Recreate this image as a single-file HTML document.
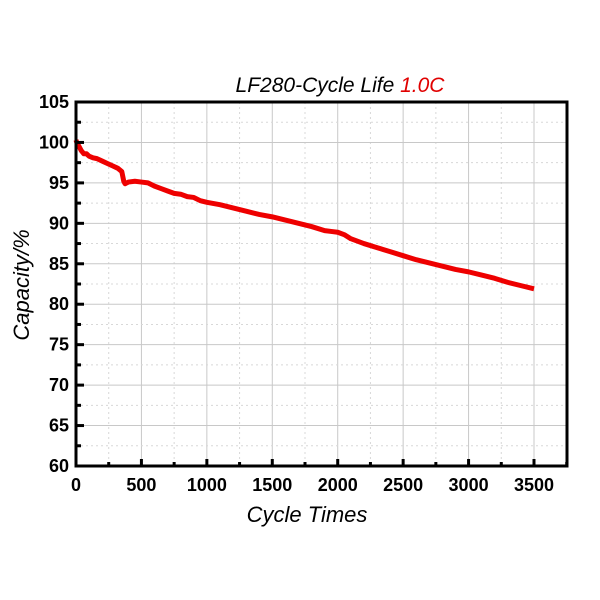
<!DOCTYPE html>
<html><head><meta charset="utf-8"><style>
body{margin:0;background:#fff;}
svg{display:block;font-family:"Liberation Sans",Arial,sans-serif;}
</style></head><body>
<svg id="chart" width="600" height="600">
<rect x="0" y="0" width="600" height="600" fill="#fff"/>
<g id="grid"></g>
<g id="series"></g>
<rect x="76" y="102" width="491" height="364" fill="none" stroke="#000" stroke-width="3"/>
<g id="ticks"></g>
<text x="340" y="92" text-anchor="middle" font-size="21" font-style="italic">LF280-Cycle Life <tspan fill="#e00000">1.0C</tspan></text>
<text x="307" y="522" text-anchor="middle" font-size="22" font-style="italic">Cycle Times</text>
<text transform="translate(29,285) rotate(-90)" text-anchor="middle" font-size="22" font-style="italic">Capacity/%</text>
</svg>
<script>
const cycles = [0,10,20,40,60,80,100,130,160,200,240,280,320,350,365,375,400,450,500,550,600,650,700,750,800,850,900,950,1000,1100,1200,1300,1400,1500,1600,1700,1800,1900,1950,2000,2050,2100,2200,2300,2400,2500,2600,2700,2800,2900,3000,3100,3200,3300,3400,3500];
const capacity = [100.3,99.8,99.6,99.0,98.6,98.6,98.3,98.1,98.0,97.7,97.4,97.1,96.8,96.4,95.2,94.9,95.1,95.2,95.1,95.0,94.6,94.3,94.0,93.7,93.6,93.3,93.2,92.8,92.6,92.3,91.9,91.5,91.1,90.8,90.4,90.0,89.6,89.1,89.0,88.9,88.6,88.1,87.5,87.0,86.5,86.0,85.5,85.1,84.7,84.3,84.0,83.6,83.2,82.7,82.3,81.9];
const xTicks = [0,500,1000,1500,2000,2500,3000,3500];
const yTicks = [60,65,70,75,80,85,90,95,100,105];
const NS="http://www.w3.org/2000/svg";
const x = v => 76 + v*(458/3500);
const y = v => 466 - (v-60)*(364/45);
function mk(tag, attrs, parent){const e=document.createElementNS(NS,tag);for(const k in attrs)e.setAttribute(k,attrs[k]);parent.appendChild(e);return e;}
const grid=document.getElementById('grid'), ticks=document.getElementById('ticks'), series=document.getElementById('series');
xTicks.forEach((t,i)=>{
  if(t>0){const l=mk('line',{x1:x(t),x2:x(t),y1:102,y2:466,stroke:'#c8c8c8','stroke-width':1},grid);
  
  }
  const m=mk('line',{x1:x(t+250),x2:x(t+250),y1:102,y2:466,stroke:'#d8d8d8','stroke-width':1,'stroke-dasharray':'2,3'},grid);
  
  
  const tk=mk('line',{x1:x(t),x2:x(t),y1:466,y2:459,stroke:'#000','stroke-width':3},ticks);
  
  
  const mt=mk('line',{x1:x(t+250),x2:x(t+250),y1:466,y2:462,stroke:'#000','stroke-width':3},ticks);
  
  
  const tx=mk('text',{x:x(t),y:491,'text-anchor':'middle','font-size':18,'font-weight':'bold'},ticks);
  tx.textContent=t;
  
  
});
yTicks.forEach(t=>{
  if(t>60&&t<105){const l=mk('line',{x1:76,x2:567,y1:y(t),y2:y(t),stroke:'#c8c8c8','stroke-width':1},grid);
  
  }
  if(t<105){const m=mk('line',{x1:76,x2:567,y1:y(t+2.5),y2:y(t+2.5),stroke:'#d8d8d8','stroke-width':1,'stroke-dasharray':'2,3'},grid);
  
  
  const mt=mk('line',{x1:76,x2:81,y1:y(t+2.5),y2:y(t+2.5),stroke:'#000','stroke-width':3},ticks);
  
  }
  const tk=mk('line',{x1:76,x2:84,y1:y(t),y2:y(t),stroke:'#000','stroke-width':3},ticks);
  
  
  const tx=mk('text',{x:69,y:y(t)+6,'text-anchor':'end','font-size':18,'font-weight':'bold'},ticks);
  tx.textContent=t;
  
  
});
const p=mk('polyline',{points:cycles.map((c,i)=>x(c)+','+y(capacity[i])).join(' '),fill:'none',stroke:'#ee0000','stroke-width':5,'stroke-linejoin':'round'},series);


</script>
</body></html>
